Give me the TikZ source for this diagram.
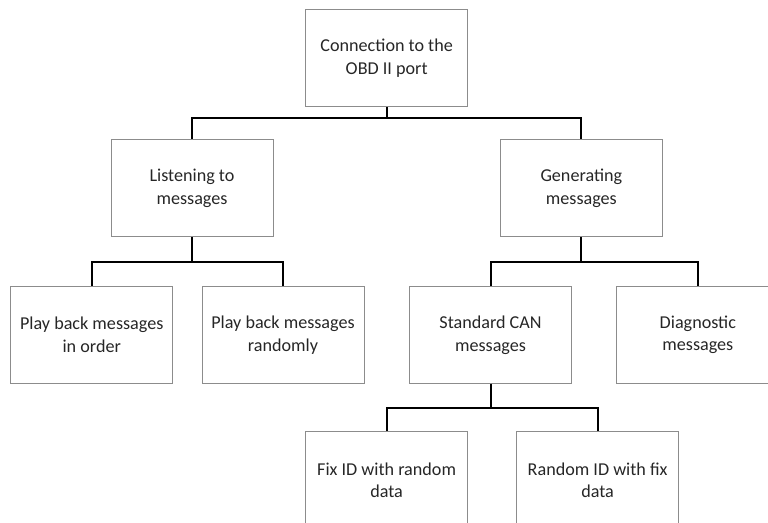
\documentclass[tikz,border=0pt]{standalone}
\usepackage{fontspec}
\setmainfont{Carlito}
\usetikzlibrary{trees}
\definecolor{boxgray}{RGB}{140,140,140}

\begin{document}
\begin{tikzpicture}
	[
		box/.style={draw=boxgray, line width=0.75pt, minimum width=121.5pt, minimum height=72.75pt,
			inner sep=0pt, align=center, text=black!85, font=\fontsize{13.6}{17}\selectfont},
		edge from parent/.style={draw, black, line width=1.5pt},
		level 1/.style={level distance=97.5pt, sibling distance=292pt,
			edge from parent path={(\tikzparentnode\tikzparentanchor) -- +(0pt,-45pt) -| (\tikzchildnode\tikzchildanchor)}},
		level 2/.style={level distance=109.9pt, sibling distance=150pt, edge from parent fork down},
		level 3/.style={level distance=109.1pt, sibling distance=158.25pt},
		edge from parent fork down
	]
	\useasboundingbox (0,0) rectangle (576pt,-391.5pt);
		\node[box] (conn) at (290pt,-43.8pt) {Connection to the\\OBD II port}
		child {node[box] (listen) {Listening to\\messages}
			child[xshift=-0.2pt] {node[box] (inorder) {Play back messages\\in order}}
			child[xshift=-6.75pt] {node[box] (randomly) {Play back messages\\randomly}}}
		child {node[box] (gen) {Generating\\messages}
			child[xshift=6.9pt] {node[box] (stdcan) {Standard CAN\\messages}
				child[xshift=1.2pt] {node[box] (fixid) {Fix ID with random\\data}}
				child[xshift=1.2pt] {node[box] (randid) {Random ID with fix\\data}}}
			child[xshift=12.4pt] {node[box] (diag) {Diagnostic\\messages}}};
\end{tikzpicture}
\end{document}
